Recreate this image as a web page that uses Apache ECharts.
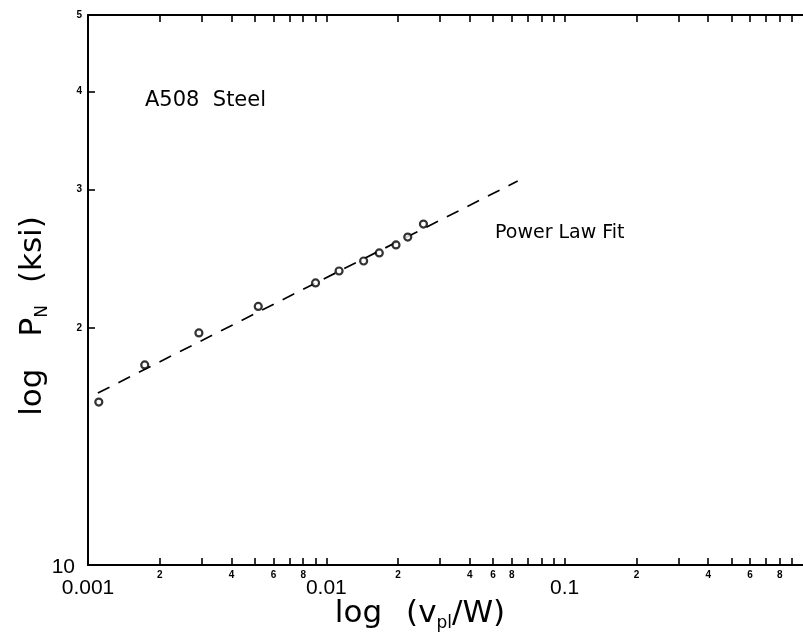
<!DOCTYPE html>
<html><head><meta charset="utf-8">
<script src="https://cdn.jsdelivr.net/npm/echarts@6/dist/echarts.min.js"></script>
<style>html,body{margin:0;padding:0;background:#fff}#c{width:803px;height:633px}</style>
</head><body><div id="c"></div>
<script>
// measured data points (x = v_pl/W, y = P_N in ksi)
const pointX = [0.00111, 0.00173, 0.00292, 0.00518, 0.00901, 0.01131, 0.01434, 0.01668, 0.01960, 0.02196, 0.02555];
const pointY = [16.11, 17.96, 19.72, 21.31, 22.83, 23.64, 24.34, 24.92, 25.51, 26.11, 27.12];
// power law fit end points
const fitX = [0.00110, 0.0635];
const fitY = [16.54, 30.76];
// axis ticks and labels
const xTickValues = [0.002,0.003,0.004,0.005,0.006,0.007,0.008,0.009,0.01,
                     0.02,0.03,0.04,0.05,0.06,0.07,0.08,0.09,0.1,
                     0.2,0.3,0.4,0.5,0.6,0.7,0.8,0.9];
const xDecadeValues = [0.001, 0.01, 0.1];
const xDecadeLabels = ['0.001', '0.01', '0.1'];
const xMinorLabelValues = [0.002,0.004,0.006,0.008, 0.02,0.04,0.05,0.06, 0.2,0.4,0.6,0.8];
const xMinorLabelTexts  = ['2','4','6','8', '2','4','6','8', '2','4','6','8'];
const yTickValues = [20, 30, 40];
const yLabelValues = [10, 20, 30, 40, 50];
const yLabelTexts = ['10', '2', '3', '4', '5'];

function nearestIdx(vals, v) {
  let best = 0, bd = Infinity;
  for (let i = 0; i < vals.length; i++) {
    const d = Math.abs(Math.log10(vals[i]) - Math.log10(v));
    if (d < bd) { bd = d; best = i; }
  }
  return best;
}
function toX(v) { return v < 0 ? Math.pow(10, v) : v; }
function toY(v) { return v < 5 ? Math.pow(10, v) : v; }

const FONT = 'Liberation Sans';
const TFONT = 'DejaVu Sans';
const black = '#000';

const chart = echarts.init(document.getElementById('c'));
chart.setOption({
  animation: false,
  backgroundColor: '#fff',
  grid: { left: 88, right: -14, top: 15, bottom: 68 },
  xAxis: [
    {
      type: 'log', logBase: 10, min: 0.001, max: 1, position: 'bottom',
      axisLine: { show: true, onZero: false, lineStyle: { color: black, width: 2 } },
      axisTick: { show: true, inside: true, length: 7, customValues: xTickValues, lineStyle: { color: black, width: 1.6 } },
      axisLabel: {
        show: true, customValues: xMinorLabelValues, margin: 5,
        fontSize: 10, fontWeight: 'bold', fontFamily: FONT, color: black,
        formatter: v => xMinorLabelTexts[nearestIdx(xMinorLabelValues, toX(v))]
      },
      splitLine: { show: false }, minorTick: { show: false }
    },
    {
      type: 'log', logBase: 10, min: 0.001, max: 1, position: 'bottom',
      axisLine: { show: false }, axisTick: { show: false },
      axisLabel: {
        show: true, customValues: xDecadeValues, margin: 13,
        fontSize: 21, fontFamily: FONT, color: black,
        formatter: v => xDecadeLabels[nearestIdx(xDecadeValues, toX(v))]
      },
      splitLine: { show: false }
    },
    {
      type: 'log', logBase: 10, min: 0.001, max: 1, position: 'top',
      axisLine: { show: true, onZero: false, lineStyle: { color: black, width: 2 } },
      axisTick: { show: true, inside: true, length: 7, customValues: xTickValues, lineStyle: { color: black, width: 1.6 } },
      axisLabel: { show: false },
      splitLine: { show: false }
    }
  ],
  yAxis: [
    {
      type: 'log', logBase: 10, min: 10, max: 50, position: 'left',
      axisLine: { show: true, onZero: false, lineStyle: { color: black, width: 2 } },
      axisTick: { show: true, inside: true, length: 7, customValues: yTickValues, lineStyle: { color: black, width: 1.6 } },
      axisLabel: {
        show: true, customValues: yLabelValues, margin: 6, color: black,
        formatter: v => {
          const i = nearestIdx(yLabelValues, toY(v));
          return i === 0 ? '{big|' + yLabelTexts[i] + '}' : '{sm|' + yLabelTexts[i] + '}';
        },
        rich: {
          big: { fontSize: 21, fontFamily: FONT, color: black, padding: [4, 7, 0, 0] },
          sm: { fontSize: 10, fontWeight: 'bold', fontFamily: FONT, color: black }
        }
      },
      splitLine: { show: false }
    }
  ],
  series: [
    {
      type: 'line', xAxisIndex: 0, yAxisIndex: 0,
      data: fitX.map((x, i) => [x, fitY[i]]),
      symbol: 'none', silent: true,
      lineStyle: { color: black, width: 1.7, type: [13, 10] },
      z: 2
    },
    {
      type: 'scatter', xAxisIndex: 0, yAxisIndex: 0,
      data: pointX.map((x, i) => [x, pointY[i]]),
      symbol: 'circle', symbolSize: 7,
      itemStyle: { color: '#fff', borderColor: black, borderWidth: 2.2 },
      z: 3
    }
  ],
  graphic: [
    {
      type: 'text', x: 145, y: 101,
      style: { text: 'A508  Steel', fontSize: 21, fontFamily: TFONT, fill: black, align: 'left', verticalAlign: 'middle' }
    },
    {
      type: 'text', x: 495, y: 233,
      style: { text: 'Power Law Fit', fontSize: 19, fontFamily: TFONT, fill: black, align: 'left', verticalAlign: 'middle' }
    },
    {
      type: 'text', x: 420, y: 614,
      style: {
        text: '{a|log}{g| }{a|(v}{s|pl}{a|/W)}',
        align: 'center', verticalAlign: 'middle', fill: black,
        rich: {
          a: { fontSize: 31, fontFamily: TFONT, color: black, lineHeight: 36 },
          g: { fontSize: 31, fontFamily: TFONT, width: 24, lineHeight: 36 },
          s: { fontSize: 17, fontFamily: TFONT, color: black, lineHeight: 17, padding: [17, 0, 0, 0], verticalAlign: 'bottom' }
        }
      }
    },
    {
      type: 'text', x: 33, y: 316, rotation: Math.PI / 2,
      style: {
        text: '{a|log}{g| }{a|P}{s|N}{h| }{a|(ksi)}',
        align: 'center', verticalAlign: 'middle', fill: black,
        rich: {
          a: { fontSize: 31, fontFamily: TFONT, color: black, lineHeight: 36 },
          g: { fontSize: 31, fontFamily: TFONT, width: 32, lineHeight: 36 },
          h: { fontSize: 31, fontFamily: TFONT, width: 22, lineHeight: 36 },
          s: { fontSize: 17, fontFamily: TFONT, color: black, lineHeight: 17, padding: [17, 0, 0, 0], verticalAlign: 'bottom' }
        }
      }
    }
  ]
});
</script>
</body></html>
